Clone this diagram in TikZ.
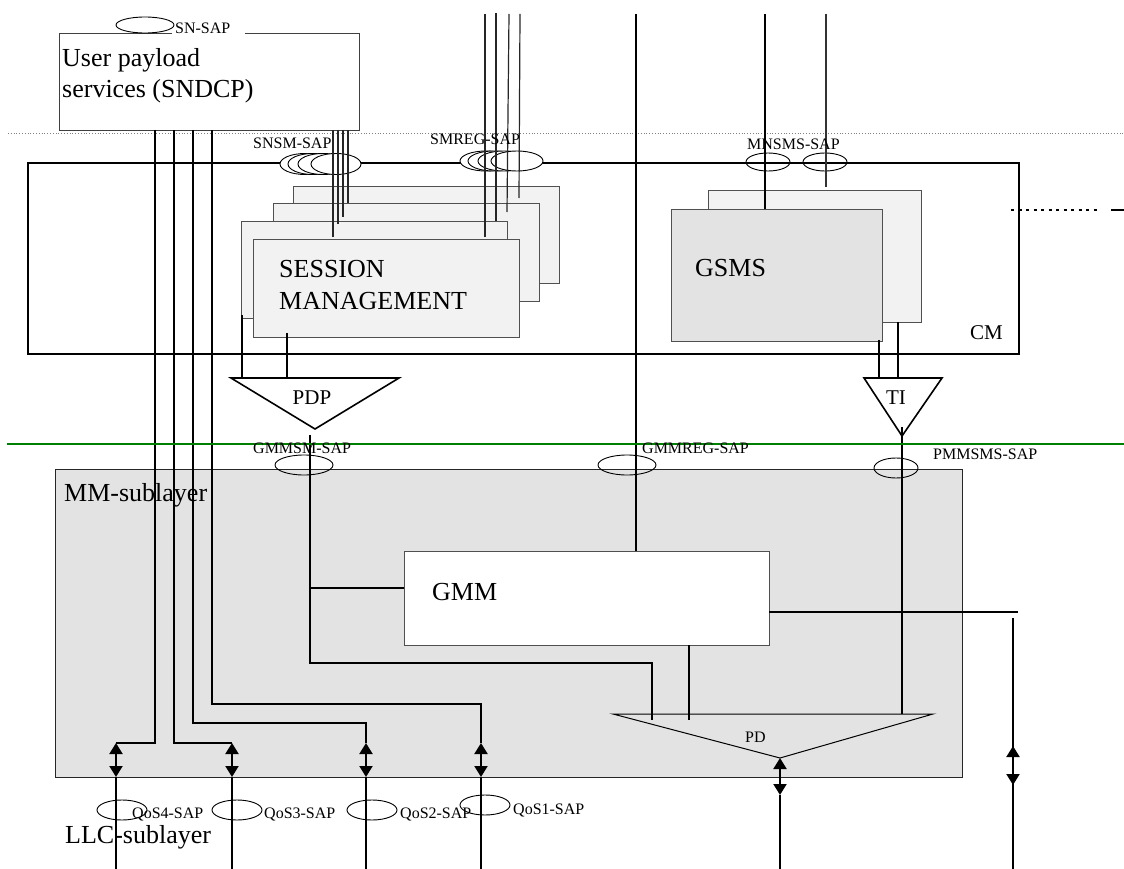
\documentclass[tikz,border=0pt]{standalone}
\usepackage{fontspec}
\setmainfont{Liberation Serif}
\usepackage{xcolor}
\usepackage{tikz}
\usetikzlibrary{arrows.meta,shapes.geometric}

\definecolor{mmgray}{RGB}{227,227,227}
\definecolor{smgray}{RGB}{242,242,242}
\definecolor{edgegray}{RGB}{80,80,80}
\definecolor{layergreen}{RGB}{0,128,0}

\newcommand{\bigfont}{\fontsize{26}{31.5}\selectfont}
\newcommand{\midfont}{\fontsize{21}{24}\selectfont}
\newcommand{\sapfont}{\fontsize{16}{18}\selectfont}

\begin{document}
\begin{tikzpicture}[x=1pt, y=-1pt,
    box/.style={draw=edgegray, line width=1pt, inner sep=0pt, anchor=north west},
    smbox/.style={box, fill=smgray},
    sap/.style={draw, ellipse, line width=0.9pt, inner sep=0pt},
    saplabel/.style={font=\sapfont, inner sep=0pt, anchor=base west},
    bigtext/.style={font=\bigfont, inner sep=0pt, anchor=base west, align=left},
    wire/.style={line width=1.2pt},
    thickwire/.style={line width=1.8pt},
    updown/.style={line width=2pt, {Triangle[width=13pt,length=11pt]}-{Triangle[width=13pt,length=11pt]}}]
    \useasboundingbox (0,0) rectangle (1124,869);

    % layers and boxes
    \draw[gray, dotted, line width=0.8pt] (8,133) -- (1124,133);
    \node[box, draw=black!85, fill=mmgray, line width=1.2pt, minimum width=907pt, minimum height=308pt] (mm) at (55,469) {};
    \node[box, draw=black, line width=2pt, minimum width=991pt, minimum height=191pt] (cm) at (27,162) {};
    \node[box, draw=black!75, minimum width=300pt, minimum height=97pt] (sndcp) at (59,33) {};
    \fill[white] (172,30) rectangle (245,36);

    \node[smbox, minimum width=266pt, minimum height=97pt] (sm4) at (293,186) {};
    \node[smbox, minimum width=266pt, minimum height=98pt] (sm3) at (273,203) {};
    \node[smbox, minimum width=266pt, minimum height=97pt] (sm2) at (241,221) {};
    \node[smbox, minimum width=266pt, minimum height=98pt] (sm1) at (253,239) {};
    \node[smbox, minimum width=213pt, minimum height=132pt] (gsms2) at (708,190) {};
    \node[box, fill=mmgray, minimum width=211pt, minimum height=132pt] (gsms1) at (671,209) {};
    \node[box, fill=white, minimum width=365pt, minimum height=94pt] (gmm) at (404,551) {};

    % triangles
    \draw[line width=1.6pt, fill=white] (231,378) -- (399,378) -- (315,429) -- cycle;
    \draw[line width=1.6pt, fill=white] (864,378) -- (942,378) -- (902,436) -- cycle;
    \draw[line width=1pt] (613,714) -- (933,714) -- (780,758) -- cycle;

    % service access points
    \node[sap, minimum width=58pt, minimum height=16pt] (snsap) at (145,25) {};
    \foreach \x/\n in {305/a,313/b,323/c,336/d}
        \node[sap, fill=white, minimum width=50pt, minimum height=21pt] (snsm\n) at (\x,164) {};
    \foreach \x/\n in {486/a,494/b,504/c,517/d}
        \node[sap, fill=white, minimum width=52pt, minimum height=20pt] (smreg\n) at (\x,161) {};
    \node[sap, minimum width=44pt, minimum height=18pt] (mnsmsa) at (768,162) {};
    \node[sap, minimum width=44pt, minimum height=18pt] (mnsmsb) at (825,162) {};
    \node[sap, minimum width=58pt, minimum height=20pt] (gmmsm) at (304,465) {};
    \node[sap, minimum width=58pt, minimum height=20pt] (gmmreg) at (627,465) {};
    \node[sap, minimum width=44pt, minimum height=20pt] (pmmsms) at (896,468) {};
    \node[sap, minimum width=50pt, minimum height=20pt] (qosd) at (122,810) {};
    \node[sap, minimum width=50pt, minimum height=20pt] (qosc) at (237,810) {};
    \node[sap, minimum width=50pt, minimum height=20pt] (qosb) at (372,810) {};
    \node[sap, minimum width=50pt, minimum height=20pt] (qosa) at (485,805) {};

    % user data paths
    \draw[thickwire] (155,130) -- (155,743) -- (116,743);
    \draw[thickwire] (174,130) -- (174,743) -- (232,743);
    \draw[thickwire] (193,130) -- (193,723) -- (366,723) -- (366,743);
    \draw[thickwire] (212,130) -- (212,704) -- (481,704) -- (481,743);
    \foreach \x in {116,232,366,481} {
        \draw[wire] (\x,777) -- (\x,869);
        \draw[updown] (\x,743) -- (\x,777);
    }

    % signalling paths
    \draw[wire, draw=black!85] (333,130) -- (333,237);
    \draw[wire, draw=black!85] (338,130) -- (338,224);
    \draw[wire, draw=black!85] (343,130) -- (343,217);
    \draw[wire, draw=black!85] (348,130) -- (348,203);
    \draw[wire, draw=black!85] (485,14) -- (485,237);
    \draw[wire, draw=black!85] (496,13) -- (496,221);
    \draw[wire, draw=black!85] (509,14) -- (507,212);
    \draw[wire, draw=black!85] (520,14) -- (519,198);
    \draw[wire] (636,14) -- (636,551);
    \draw[wire] (765,14) -- (765,209);
    \draw[wire, draw=black!80] (826,14) -- (826,187);
    \draw[thickwire] (242,315) -- (242,378);
    \draw[thickwire] (287,333) -- (287,378);
    \draw[thickwire] (879,340) -- (879,378);
    \draw[thickwire] (898,322) -- (898,378);
    \draw[wire] (902,427) -- (902,714);
    \draw[thickwire] (310,435) -- (310,663) -- (652,663) -- (652,720);
    \draw[thickwire] (310,588) -- (gmm.west |- 0,588);
    \draw[line width=2.5pt] (689,645) -- (689,720);
    \draw[thickwire] (769,612) -- (1018,612);
    \draw[wire] (1013,618) -- (1013,869);
    \draw[updown] (1013,746) -- (1013,785);
    \draw[wire] (780,795) -- (780,869);
    \draw[updown] (780,758) -- (780,795);

    \draw[dash pattern=on 3pt off 4.5pt, line width=1.5pt] (1011,210) -- (1100,210);
    \draw[line width=1.5pt] (1111,210) -- (1124,210);
    \draw[layergreen, line width=2pt] (7,444) -- (1124,444);

    % texts
    \node[bigtext] (sndcptext) at (62,98) {User payload\\services (SNDCP)};
    \node[bigtext] (smtext) at (279,309) {SESSION\\MANAGEMENT};
    \node[bigtext] (gsmstext) at (695,276) {GSMS};
    \node[bigtext] (gmmtext) at (432,600) {GMM};
    \node[bigtext] (mmtext) at (64,501) {MM-sublayer};
    \node[bigtext] (llctext) at (65,843) {LLC-sublayer};
    \node[font=\midfont, inner sep=0pt, anchor=base west] (cmtext) at (970,339) {CM};
    \node[font=\midfont, inner sep=0pt] (pdptext) at (312,398) {PDP};
    \node[font=\midfont, inner sep=0pt] (titext) at (896,398) {TI};
    \node[saplabel] (pdtext) at (745,742) {PD};
    \node[saplabel] (snlabel) at (175,34) {SN-SAP};
    \node[saplabel] (snsmlabel) at (253,149) {SNSM-SAP};
    \node[saplabel] (smreglabel) at (430,145) {SMREG-SAP};
    \node[saplabel] (mnsmslabel) at (747,150) {MNSMS-SAP};
    \node[saplabel] (gmmsmlabel) at (253,453) {GMMSM-SAP};
    \node[saplabel] (gmmreglabel) at (642,453) {GMMREG-SAP};
    \node[saplabel] (pmmsmslabel) at (933,459) {PMMSMS-SAP};
    \node[saplabel] (qosdlabel) at (132,818) {QoS4-SAP};
    \node[saplabel] (qosclabel) at (264,818) {QoS3-SAP};
    \node[saplabel] (qosblabel) at (400,818) {QoS2-SAP};
    \node[saplabel] (qosalabel) at (513,814) {QoS1-SAP};
\end{tikzpicture}
\end{document}
